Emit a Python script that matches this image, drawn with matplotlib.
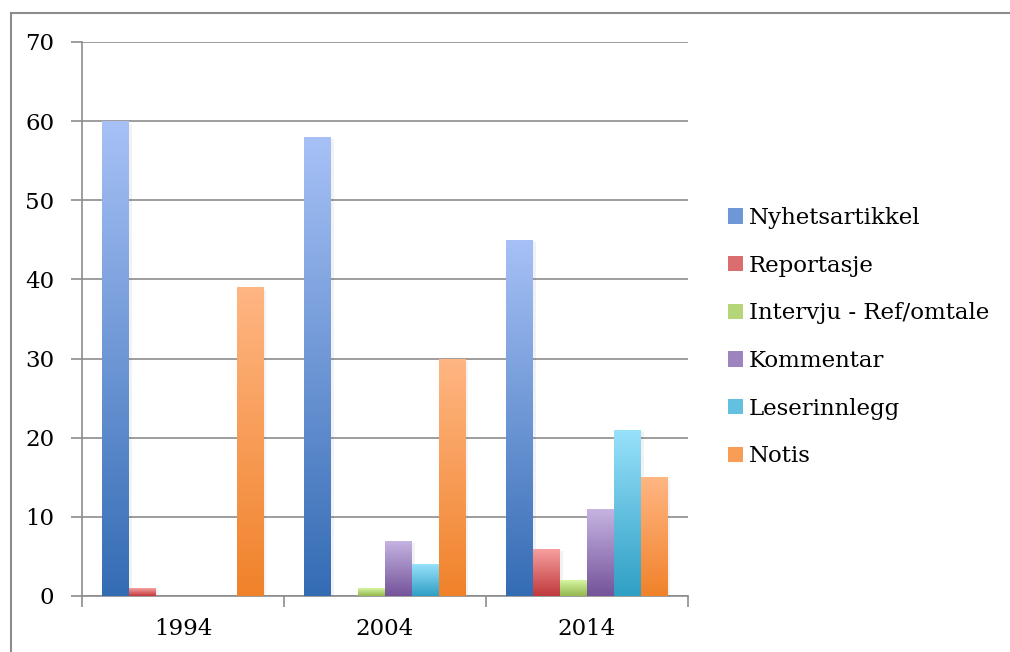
import matplotlib
matplotlib.use("Agg")
import matplotlib.pyplot as plt
import numpy as np
from matplotlib.colors import LinearSegmentedColormap
from matplotlib.patches import Patch
from matplotlib.lines import Line2D

years = ["1994", "2004", "2014"]
series = ["Nyhetsartikkel", "Reportasje", "Intervju - Ref/omtale",
          "Kommentar", "Leserinnlegg", "Notis"]
nyhetsartikkel = [60, 58, 45]
reportasje = [1, 0, 6]
intervju = [0, 1, 2]
kommentar = [0, 7, 11]
leserinnlegg = [0, 4, 21]
notis = [39, 30, 15]
values = [nyhetsartikkel, reportasje, intervju, kommentar, leserinnlegg, notis]

# (top/light, bottom/dark)
grads = [("#a7c1f6", "#346cb4"),
         ("#f7a1a1", "#c0393b"),
         ("#d6f5a3", "#93b74d"),
         ("#c6b5e2", "#74539a"),
         ("#98e1fb", "#2f9fc4"),
         ("#ffb683", "#f0822a")]

plt.rcParams['font.family'] = ['DejaVu Serif']
FS = 16.5

W, H = 1010, 652
fig = plt.figure(figsize=(W / 100, H / 100), dpi=100)

ax = fig.add_axes([82 / W, 1 - 596 / H, (688 - 82) / W, (596 - 42) / H])

n = len(series)
bw = 1 / (n + 1.5)
x = np.arange(len(years))
gradimg = np.linspace(0, 1, 256).reshape(-1, 1)
for i, (vals, (c1, c2)) in enumerate(zip(values, grads)):
    cmap = LinearSegmentedColormap.from_list("g%d" % i, [c2, c1])
    offs = (i - (n - 1) / 2) * bw
    bars = ax.bar(x + offs, vals, width=bw, color="none", edgecolor="none", zorder=3)
    for b, v in zip(bars, vals):
        if v <= 0:
            continue
        bx, by = b.get_x(), b.get_y()
        bwid, bh = b.get_width(), b.get_height()
        # soft shadow
        ax.add_patch(plt.Rectangle((bx + bwid * 0.1, by), bwid, max(bh - 0.3, 0),
                                   facecolor="#000000", alpha=0.05, edgecolor="none", zorder=2.5))
        im = ax.imshow(gradimg, cmap=cmap, origin="lower", aspect="auto",
                       extent=(bx, bx + bwid, by, by + bh), zorder=3)
        im.set_clip_path(b)

ax.set_xlim(-0.5, len(years) - 0.5)
ax.set_ylim(0, 70)
ax.set_yticks(range(0, 71, 10))
ax.yaxis.grid(True, color="#8c8c8c", linewidth=1.2, zorder=1)
ax.set_axisbelow(True)
ax.set_xticks(x)
ax.set_xticklabels(years)
ax.set_xticks(np.arange(len(years) + 1) - 0.5, minor=True)
ax.tick_params(axis="x", which="major", length=0, pad=16, labelsize=FS)
ax.tick_params(axis="x", which="minor", length=8, width=1.2, color="#8c8c8c", direction="out")
ax.tick_params(axis="y", length=8, width=1.2, color="#8c8c8c", labelsize=FS, pad=12)
for s in ["top", "right"]:
    ax.spines[s].set_visible(False)
for s in ["left", "bottom"]:
    ax.spines[s].set_color("#8c8c8c")
    ax.spines[s].set_linewidth(1.2)

mids = []
for c1, c2 in grads:
    a = np.array(matplotlib.colors.to_rgb(c1)); b = np.array(matplotlib.colors.to_rgb(c2))
    mids.append((a + b) / 2)
handles = [Patch(facecolor=m, edgecolor="none") for m in mids]
leg = fig.legend(handles, series, loc="upper left", bbox_to_anchor=(728 / W, 1 - 207 / H),
                 frameon=False, fontsize=FS, handlelength=0.65, handleheight=0.65,
                 handletextpad=0.25, labelspacing=1.12, borderaxespad=0, borderpad=0)

# outer border (top and left edges visible)
fig.add_artist(Line2D([11 / W, 1.0], [1 - 13 / H, 1 - 13 / H], color="#8c8c8c", linewidth=1.5))
fig.add_artist(Line2D([11 / W, 11 / W], [0, 1 - 13 / H], color="#8c8c8c", linewidth=1.5))

fig.savefig("out.png", dpi=100)
